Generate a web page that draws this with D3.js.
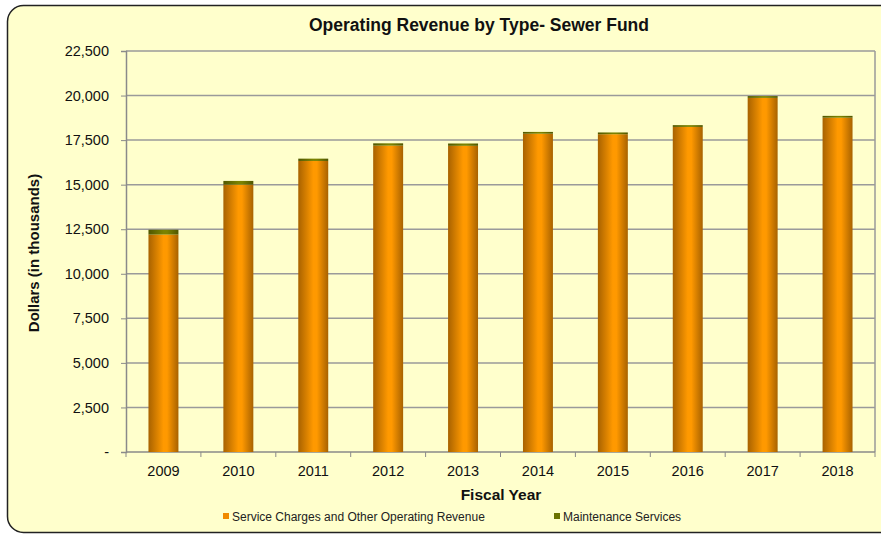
<!DOCTYPE html>
<html>
<head>
<meta charset="utf-8">
<script src="https://cdn.jsdelivr.net/npm/d3@7"></script>
<style>
  body { margin: 0; background: #fff; }
  svg { display: block; font-family: 'Liberation Sans', Arial, sans-serif; }
</style>
</head>
<body>
<div id="chart"></div>
<script>
const years = ['2009', '2010', '2011', '2012', '2013', '2014', '2015', '2016', '2017', '2018']
const serviceCharges = [12200, 15000, 16330, 17190, 17180, 17860, 17830, 18240, 19870, 18760]
const maintenance = [270, 210, 130, 130, 130, 100, 100, 100, 100, 100]
const yTicks = [0, 2500, 5000, 7500, 10000, 12500, 15000, 17500, 20000, 22500]
const seriesNames = ['Service Charges and Other Operating Revenue', 'Maintenance Services']

const width = 881
const height = 535
const plot = { left: 126, right: 875, top: 51, bottom: 452 }

const svg = d3.select('#chart')
  .append('svg')
  .attr('width', width)
  .attr('height', height)

const defs = svg.append('defs')

function barGradient (id, dark, light) {
  const g = defs.append('linearGradient')
    .attr('id', id)
    .attr('x1', '0%').attr('x2', '100%')
    .attr('y1', '0%').attr('y2', '0%')
  g.append('stop').attr('offset', '0%').attr('stop-color', dark)
  g.append('stop').attr('offset', '50%').attr('stop-color', light)
  g.append('stop').attr('offset', '62%').attr('stop-color', light)
  g.append('stop').attr('offset', '100%').attr('stop-color', dark)
}
barGradient('gOrange', '#a86200', '#ff9900')
barGradient('gGreen', '#4f5600', '#7a8200')

// chart background with rounded border (runs off the right side)
svg.append('rect')
  .attr('x', 7.5).attr('y', 5.5)
  .attr('width', 890).attr('height', 527)
  .attr('rx', 16)
  .attr('fill', '#ffffcc')
  .attr('stroke', '#222')
  .attr('stroke-width', 1.5)

const x = d3.scaleBand()
  .domain(years)
  .range([plot.left, plot.right])
  .paddingInner(0.6)
  .paddingOuter(0.3)

const band = d3.scaleBand().domain(years).range([plot.left, plot.right])

const y = d3.scaleLinear()
  .domain([0, 22500])
  .range([plot.bottom, plot.top])

// gridlines
svg.append('g')
  .selectAll('line')
  .data(yTicks.slice(1))
  .enter()
  .append('line')
  .attr('x1', plot.left).attr('x2', plot.right)
  .attr('y1', d => y(d)).attr('y2', d => y(d))
  .attr('stroke', '#9a9a9a')
  .attr('stroke-width', 1.5)

// right frame line
svg.append('line')
  .attr('x1', plot.right).attr('x2', plot.right)
  .attr('y1', plot.top).attr('y2', plot.bottom)
  .attr('stroke', '#9a9a9a')
  .attr('stroke-width', 1.5)

// y axis
const yAxis = svg.append('g')
  .attr('transform', `translate(${plot.left},0)`)
  .call(d3.axisLeft(y)
    .tickValues(yTicks)
    .tickSize(5)
    .tickPadding(12)
    .tickFormat(d => d === 0 ? '-' : d3.format(',')(d)))
yAxis.select('.domain').attr('stroke', '#8a8a8a').attr('stroke-width', 1.5)
yAxis.selectAll('.tick line').attr('stroke', '#8a8a8a')
yAxis.selectAll('.tick text')
  .attr('fill', '#111')
  .style('font-size', '14.5px')
  .style('font-family', "'Liberation Sans', Arial, sans-serif")

// x axis: ticks between categories
const xAxisG = svg.append('g')
  .attr('transform', `translate(0,${plot.bottom})`)
xAxisG.append('line')
  .attr('x1', plot.left).attr('x2', plot.right)
  .attr('stroke', '#8a8a8a')
  .attr('stroke-width', 1.5)
xAxisG.selectAll('.sep')
  .data(years.concat(['end']))
  .enter()
  .append('line')
  .attr('x1', (d, i) => plot.left + i * band.bandwidth())
  .attr('x2', (d, i) => plot.left + i * band.bandwidth())
  .attr('y1', 0).attr('y2', 5)
  .attr('stroke', '#8a8a8a')
xAxisG.selectAll('text')
  .data(years)
  .enter()
  .append('text')
  .attr('x', d => band(d) + band.bandwidth() / 2)
  .attr('y', 24)
  .attr('text-anchor', 'middle')
  .attr('fill', '#111')
  .style('font-size', '14.5px')
  .text(d => d)

// stacked bars
const rows = years.map((yr, i) => ({ year: yr, service: serviceCharges[i], maint: maintenance[i] }))
const stacked = d3.stack().keys(['service', 'maint'])(rows)
const fills = ['url(#gOrange)', 'url(#gGreen)']

svg.append('g')
  .selectAll('g')
  .data(stacked)
  .enter()
  .append('g')
  .attr('fill', (d, i) => fills[i])
  .selectAll('rect')
  .data(d => d)
  .enter()
  .append('rect')
  .attr('x', d => x(d.data.year))
  .attr('width', x.bandwidth())
  .attr('y', d => y(d[1]))
  .attr('height', d => y(d[0]) - y(d[1]))

// title
svg.append('text')
  .attr('x', 479).attr('y', 31)
  .attr('text-anchor', 'middle')
  .attr('font-weight', 'bold')
  .style('font-size', '17.5px')
  .attr('fill', '#111')
  .text('Operating Revenue by Type- Sewer Fund')

// axis titles
svg.append('text')
  .attr('transform', 'translate(39,253) rotate(-90)')
  .attr('text-anchor', 'middle')
  .attr('font-weight', 'bold')
  .style('font-size', '15px')
  .attr('fill', '#111')
  .text('Dollars (in thousands)')

svg.append('text')
  .attr('x', 501).attr('y', 500)
  .attr('text-anchor', 'middle')
  .attr('font-weight', 'bold')
  .style('font-size', '15.5px')
  .attr('fill', '#111')
  .text('Fiscal Year')

// legend
const legendX = [223, 554]
const legendColors = ['#f08a00', '#6b7300']
const legend = svg.append('g')
  .selectAll('g')
  .data(seriesNames)
  .enter()
  .append('g')
  .attr('transform', (d, i) => `translate(${legendX[i]},517)`)
legend.append('rect')
  .attr('x', 0).attr('y', -4)
  .attr('width', 6).attr('height', 6)
  .attr('fill', (d, i) => legendColors[i])
legend.append('text')
  .attr('x', 9).attr('y', 1)
  .attr('dominant-baseline', 'middle')
  .style('font-size', '12px')
  .attr('fill', '#222')
  .text(d => d)
</script>
</body>
</html>
